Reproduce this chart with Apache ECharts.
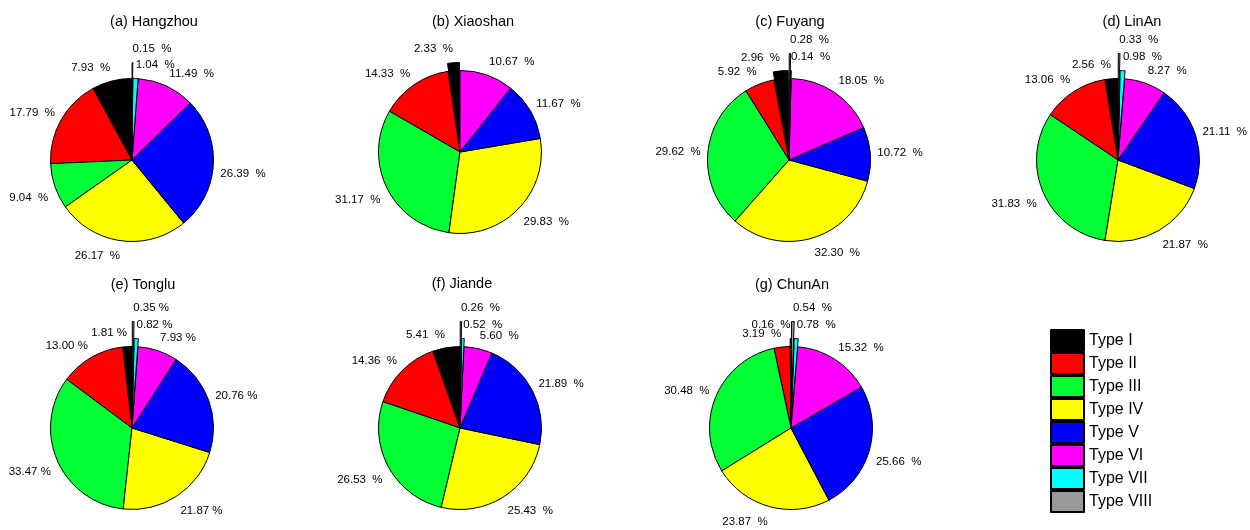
<!DOCTYPE html>
<html>
<head>
<meta charset="utf-8">
<script src="https://cdn.jsdelivr.net/npm/echarts@6/dist/echarts.min.js"></script>
<style>
  html, body { margin: 0; padding: 0; background: #ffffff; }
  #chart { width: 1250px; height: 530px; }
</style>
</head>
<body>
<div id="chart"></div>
<script>
// ---------------- data ----------------
const cities = ['(a) Hangzhou', '(b) Xiaoshan', '(c) Fuyang', '(d) LinAn', '(e) Tonglu', '(f) Jiande', '(g) ChunAn'];
const typeNames = ['Type I', 'Type II', 'Type III', 'Type IV', 'Type V', 'Type VI', 'Type VII', 'Type VIII'];

const hangzhou = [7.93, 17.79, 9.04, 26.17, 26.39, 11.49, 1.04, 0.15];
const xiaoshan = [2.33, 14.33, 31.17, 29.83, 11.67, 10.67, 0, 0];
const fuyang   = [2.96, 5.92, 29.62, 32.30, 10.72, 18.05, 0.14, 0.28];
const linan    = [2.56, 13.06, 31.83, 21.87, 21.11, 8.27, 0.98, 0.33];
const tonglu   = [1.81, 13.00, 33.47, 21.87, 20.76, 7.93, 0.82, 0.35];
const jiande   = [5.41, 14.36, 26.53, 25.43, 21.89, 5.60, 0.52, 0.26];
const chunan   = [0.16, 3.19, 30.48, 23.87, 25.66, 15.32, 0.78, 0.54];
const cityValues = [hangzhou, xiaoshan, fuyang, linan, tonglu, jiande, chunan];

// which slices are pulled out: 0 none, 1 small pull, 2 large pull
const explode = [
  [0, 0, 0, 0, 0, 0, 0, 2],
  [1, 0, 0, 0, 0, 0, 0, 0],
  [1, 0, 0, 0, 0, 0, 1, 2],
  [0, 0, 0, 0, 0, 0, 1, 2],
  [0, 0, 0, 0, 0, 0, 1, 2],
  [0, 0, 0, 0, 0, 0, 1, 2],
  [1, 0, 0, 0, 0, 0, 1, 2]
];

// ---------------- style / layout ----------------
const colors = ['#000000', '#ff0000', '#00ff33', '#ffff00', '#0000ff', '#ff00ff', '#00ffff', '#999999'];
const FONT = "'Liberation Sans', Arial, Helvetica, sans-serif";
const R = 81.5, GAP = 7, HALF = 6.5, OFF1 = 8;
const layout = [
  { c: [132, 160], t: [154, 22], big: 16, sfx: '  %' },
  { c: [460, 152], t: [473, 22], big: 25, sfx: '  %' },
  { c: [789, 160], t: [790, 22], big: 25, sfx: '  %' },
  { c: [1118, 160], t: [1132, 22], big: 25, sfx: '  %' },
  { c: [132, 428], t: [143, 285], big: 25, sfx: ' %' },
  { c: [460, 428], t: [462, 284], big: 25, sfx: '  %' },
  { c: [791, 428], t: [792, 285], big: 25, sfx: '  %' }
];

const series = [];
cities.forEach(function (city, ci) {
  const vals = cityValues[ci];
  const ex = explode[ci];
  const L = layout[ci];
  const items = [];
  vals.forEach(function (v, i) { if (v > 0) items.push({ i: i, v: v }); });
  const total = items.reduce(function (s, d) { return s + d.v; }, 0);
  let cum = 0;
  const labelPos = items.map(function (d) {
    const f = (cum + d.v / 2) / total;
    cum += d.v;
    const th = (90 + f * 360) * Math.PI / 180;
    const c = Math.cos(th), s = Math.sin(th);
    const off = ex[d.i] === 1 ? OFF1 : (ex[d.i] === 2 ? L.big : 0);
    const rr = R + off + GAP;
    const x = L.c[0] + rr * c;
    let y = L.c[1] - rr * s - HALF * s;
    if (s < 0) y += 2 + 7 * (1 - Math.abs(s));
    return { x: x, y: y, align: c >= 0 ? 'left' : 'right' };
  });
  const common = {
    type: 'pie', center: L.c, radius: R, startAngle: 90, clockwise: false,
    avoidLabelOverlap: false, labelLine: { show: false },
    emphasis: { disabled: true }, animation: false
  };
  // base sectors
  series.push(Object.assign({}, common, {
    name: city, selectedMode: 'multiple', selectedOffset: OFF1,
    label: { show: false },
    data: items.map(function (d) {
      return {
        name: typeNames[d.i], value: d.v, selected: ex[d.i] === 1,
        itemStyle: { color: colors[d.i], borderColor: '#000', borderWidth: 1 }
      };
    })
  }));
  // far pulled slivers
  series.push(Object.assign({}, common, {
    selectedMode: 'multiple', selectedOffset: L.big, silent: true,
    label: { show: false },
    data: items.map(function (d) {
      return {
        name: typeNames[d.i], value: d.v, selected: ex[d.i] === 2,
        itemStyle: ex[d.i] === 2
          ? { color: colors[d.i], borderColor: '#000', borderWidth: 1 }
          : { color: 'rgba(0,0,0,0)', borderWidth: 0 }
      };
    })
  }));
  // labels
  series.push(Object.assign({}, common, {
    silent: true,
    itemStyle: { color: 'rgba(0,0,0,0)', borderWidth: 0 },
    label: {
      show: true, position: 'outside', color: '#000', fontSize: 11.5, fontFamily: FONT,
      formatter: function (p) { return p.value.toFixed(2) + L.sfx; }
    },
    labelLayout: function (p) {
      const lp = labelPos[p.dataIndex];
      return { x: lp.x, y: lp.y, align: lp.align, verticalAlign: 'middle' };
    },
    data: items.map(function (d) { return { name: typeNames[d.i], value: d.v }; })
  }));
});

const chart = echarts.init(document.getElementById('chart'), null, { renderer: 'canvas' });
chart.setOption({
  backgroundColor: '#ffffff',
  animation: false,
  title: cities.map(function (c, ci) {
    return {
      text: c, left: layout[ci].t[0], top: layout[ci].t[1],
      textAlign: 'center', textVerticalAlign: 'middle', padding: 0,
      textStyle: { fontSize: 14.5, fontWeight: 'normal', color: '#000', fontFamily: FONT }
    };
  }),
  legend: {
    orient: 'vertical', left: 1050, top: 329, padding: 0,
    itemWidth: 33, itemHeight: 21, itemGap: 0, icon: 'rect', selectedMode: false,
    textStyle: { fontSize: 16, color: '#000', fontFamily: FONT, lineHeight: 21 },
    data: typeNames
  },
  series: series
});
</script>
</body>
</html>
